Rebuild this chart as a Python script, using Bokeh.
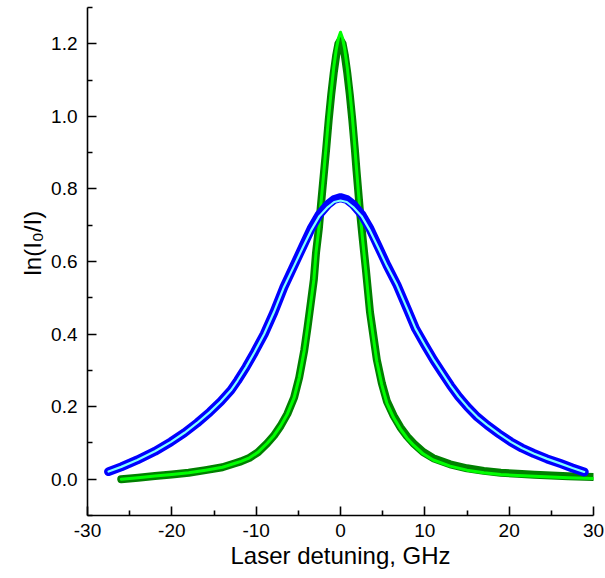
from bokeh.plotting import figure
from bokeh.models import FixedTicker, Range1d, NumeralTickFormatter, PrintfTickFormatter, Title
from bokeh.embed import file_html
from bokeh.resources import INLINE

# ---- data ----
green_x = [-26, -24, -22, -20, -18, -16, -14, -12.5, -11.8, -10.8, -9.8, -8.7, -7.9, -7.1,
           -6.3, -5.5, -4.9, -4.3, -3.9, -3.5, -3.16, -2.9, -2.57, -2.3, -2.0, -1.7, -1.4,
           -1.1, -0.8, -0.5, -0.25, 0, 0.25, 0.5, 0.8, 1.1, 1.4, 1.7, 1.9, 2.3, 2.6, 3.0,
           3.5, 3.9, 4.3, 4.9, 5.5, 6.3, 7.1, 7.9, 8.7, 9.8, 11, 13, 15, 17, 19, 21, 23,
           25, 27, 30]
green_exp = [0.0, 0.004, 0.009, 0.013, 0.018, 0.025, 0.033, 0.044, 0.049, 0.059, 0.074, 0.099,
             0.12, 0.147, 0.18, 0.225, 0.28, 0.355, 0.42, 0.49, 0.55, 0.625, 0.69, 0.76, 0.835,
             0.91, 0.99, 1.06, 1.12, 1.17, 1.20, 1.21, 1.20, 1.17, 1.12, 1.06, 0.99, 0.91,
             0.85, 0.74, 0.67, 0.58, 0.46, 0.395, 0.33, 0.265, 0.215, 0.175, 0.143, 0.118,
             0.098, 0.075, 0.058, 0.041, 0.030, 0.023, 0.018, 0.015, 0.012, 0.010, 0.008, 0.006]
green_fit = [0.0, 0.004, 0.009, 0.013, 0.018, 0.025, 0.033, 0.044, 0.049, 0.059, 0.074, 0.099,
             0.12, 0.147, 0.18, 0.225, 0.28, 0.355, 0.42, 0.49, 0.55, 0.625, 0.69, 0.765, 0.84,
             0.92, 1.0, 1.07, 1.135, 1.185, 1.215, 1.232, 1.215, 1.185, 1.135, 1.07, 1.0, 0.915,
             0.855, 0.74, 0.665, 0.575, 0.455, 0.39, 0.325, 0.26, 0.21, 0.17, 0.139, 0.113,
             0.093, 0.07, 0.053, 0.036, 0.025, 0.018, 0.013, 0.010, 0.008, 0.006, 0.004, 0.002]

blue_x = [-27.5, -26, -24.1, -22, -20.1, -18.5, -17.0, -15.5, -14.2, -13.0, -12.2, -11.2,
          -10.2, -9.05, -7.9, -6.7, -5.5, -4.5, -3.5, -2.5, -1.5, -0.75, 0, 0.75, 1.5, 2.5,
          3.5, 4.5, 5.5, 6.7, 7.9, 8.9, 10.0, 11.07, 12.0, 13.05, 14.0, 15.03, 16.2, 17.4,
          18.8, 20.2, 21.5, 22.9, 24.5, 26.1, 27.5, 28.9]
blue_exp = [0.021, 0.034, 0.053, 0.077, 0.103, 0.128, 0.155, 0.185, 0.214, 0.245, 0.272, 0.309,
            0.35, 0.40, 0.46, 0.53, 0.59, 0.64, 0.69, 0.73, 0.757, 0.771, 0.776, 0.771, 0.757,
            0.73, 0.69, 0.64, 0.59, 0.535, 0.47, 0.415, 0.37, 0.328, 0.295, 0.258, 0.228, 0.2,
            0.172, 0.149, 0.125, 0.103, 0.086, 0.071, 0.056, 0.043, 0.031, 0.02]
blue_fit = [0.021, 0.034, 0.053, 0.077, 0.103, 0.128, 0.155, 0.185, 0.214, 0.245, 0.272, 0.309,
            0.35, 0.40, 0.46, 0.53, 0.588, 0.637, 0.685, 0.725, 0.75, 0.764, 0.768, 0.764, 0.75,
            0.725, 0.685, 0.637, 0.588, 0.535, 0.47, 0.415, 0.37, 0.328, 0.295, 0.258, 0.228,
            0.2, 0.172, 0.149, 0.125, 0.103, 0.086, 0.071, 0.056, 0.043, 0.031, 0.02]

x_ticks = [-30, -20, -10, 0, 10, 20, 30]
x_minor = [-25, -15, -5, 5, 15, 25]
y_ticks = [0.0, 0.2, 0.4, 0.6, 0.8, 1.0, 1.2]
y_minor = [-0.1, 0.1, 0.3, 0.5, 0.7, 0.9, 1.1, 1.3]

FONT = "Liberation Sans"

p = figure(width=605, height=578, output_backend="svg", toolbar_location=None,
           x_range=Range1d(-30, 30), y_range=Range1d(-0.1, 1.3),
           min_border_left=87, min_border_right=12, min_border_top=7, min_border_bottom=63)
p.outline_line_color = None
p.xgrid.visible = False
p.ygrid.visible = False
p.background_fill_color = "white"
p.border_fill_color = "white"

# green (narrow) profile
p.line(green_x, green_exp, line_color="#008000", line_width=8, line_cap="round", line_join="round")
p.line(green_x, green_fit, line_color="#00ff00", line_width=3, line_cap="round", line_join="round")
# blue (broad) profile
p.line(blue_x, blue_exp, line_color="#0000ff", line_width=9, line_cap="round", line_join="round")
p.line(blue_x, blue_fit, line_color="#80ffff", line_width=2.2, line_cap="round", line_join="round")

for ax, ticks, minor in ((p.xaxis, x_ticks, x_minor), (p.yaxis, y_ticks, y_minor)):
    ax.ticker = FixedTicker(ticks=ticks, minor_ticks=minor)
    ax.axis_line_width = 1.6
    ax.axis_line_color = "black"
    ax.major_tick_in = 9
    ax.major_tick_out = 0
    ax.minor_tick_in = 5
    ax.minor_tick_out = 0
    ax.major_tick_line_width = 1.6
    ax.minor_tick_line_width = 1.6
    ax.major_tick_line_color = "black"
    ax.minor_tick_line_color = "black"
    ax.major_label_text_font = FONT
    ax.major_label_text_font_size = "19px"
    ax.major_label_text_color = "black"
    ax.axis_label_text_font = FONT
    ax.axis_label_text_font_size = "24px"
    ax.axis_label_text_font_style = "normal"
    ax.axis_label_text_color = "black"

p.yaxis.formatter = NumeralTickFormatter(format="0.0")
p.yaxis.major_label_standoff = 10
p.xaxis.formatter = PrintfTickFormatter(format="%d")
p.xaxis.major_label_standoff = 8
p.xaxis.axis_label = "Laser detuning, GHz"
p.xaxis.axis_label_standoff = 2

ytitle = Title(text="ln(I\u2080/I)", align="left", offset=240, text_font=FONT,
               text_font_size="24px", text_font_style="normal", text_color="black",
               standoff=6)
p.add_layout(ytitle, "left")

open("out.html", "w").write(file_html(p, INLINE))
